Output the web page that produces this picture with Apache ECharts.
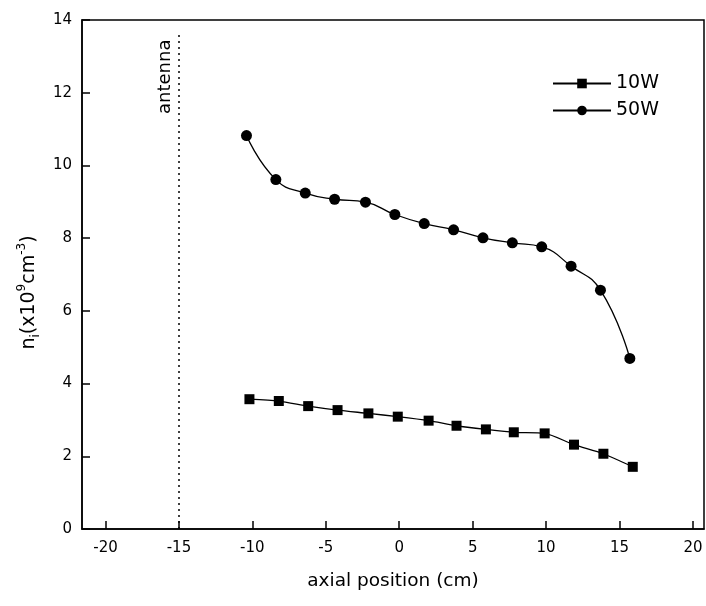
<!DOCTYPE html>
<html>
<head>
<meta charset="utf-8">
<script src="https://cdn.jsdelivr.net/npm/echarts@6/dist/echarts.min.js"></script>
<style>
html, body { margin: 0; padding: 0; background: #fff; }
#chart { width: 706px; height: 606px; }
</style>
</head>
<body>
<div id="chart"></div>
<script>
// 10W
var posLow = [-10.2, -8.2, -6.2, -4.2, -2.1, -0.1, 2.0, 3.9, 5.9, 7.8, 9.9, 11.9, 13.9, 15.9];
var densLow = [3.57, 3.52, 3.38, 3.27, 3.18, 3.09, 2.98, 2.84, 2.74, 2.66, 2.63, 2.32, 2.07, 1.71];
// 50W
var posHigh = [-10.4, -8.4, -6.4, -4.4, -2.3, -0.3, 1.7, 3.7, 5.7, 7.7, 9.7, 11.7, 13.7, 15.7];
var densHigh = [10.82, 9.61, 9.24, 9.07, 8.99, 8.65, 8.40, 8.23, 8.01, 7.87, 7.76, 7.23, 6.57, 4.69];
// antenna position
var antennaPos = -15;
var antennaTop = 13.6;
var xTicks = [-20, -15, -10, -5, 0, 5, 10, 15, 20];
var seriesNames = ['10W', '50W'];

function pairs(xs, ys) {
	var out = [];
	for (var i = 0; i < xs.length; i++) {
		out.push([xs[i], ys[i]]);
	}
	return out;
}

var myChart = echarts.init(document.getElementById('chart'));
var font = 'DejaVu Sans';
option = {
	animation: false,
	textStyle: { fontFamily: font, color: '#000' },
	grid: {
		left: 82, right: 2, top: 20, bottom: 77,
		show: true, borderColor: '#000', borderWidth: 1.5
	},
	legend: {
		data: seriesNames,
		orient: 'vertical',
		left: 547,
		top: 69,
		itemWidth: 58,
		itemHeight: 12,
		itemGap: 8,
		textStyle: { fontFamily: font, fontSize: 19, color: '#000' }
	},
	xAxis: {
		type: 'value',
		min: -21.6,
		max: 20.75,
		name: 'axial position (cm)',
		nameLocation: 'middle',
		nameGap: 43,
		nameTextStyle: { fontFamily: font, fontSize: 18.5, color: '#000' },
		splitLine: { show: false },
		axisLine: { onZero: false, lineStyle: { color: '#000', width: 1.5 } },
		axisTick: { inside: true, length: 8, customValues: xTicks, lineStyle: { color: '#000', width: 1.5 } },
		axisLabel: { customValues: xTicks, fontSize: 15, color: '#000', margin: 12 }
	},
	yAxis: {
		type: 'value',
		min: 0,
		max: 14,
		interval: 2,
		name: '{n|n}{sub|i}{n|(x10}{sup|9}{n|cm}{sup|-3}{n|)}',
		nameLocation: 'middle',
		nameGap: 40,
		nameRotate: 90,
		nameTextStyle: {
			padding: [0, 36, 0, 0],
			rich: {
				n: { fontFamily: font, fontSize: 19, color: '#000', lineHeight: 26 },
				sub: { fontFamily: font, fontSize: 12, color: '#000', lineHeight: 26, verticalAlign: 'bottom' },
				sup: { fontFamily: font, fontSize: 12, color: '#000', lineHeight: 26, verticalAlign: 'top' }
			}
		},
		splitLine: { show: false },
		axisLine: { onZero: false, lineStyle: { color: '#000', width: 1.5 } },
		axisTick: { inside: true, length: 8, lineStyle: { color: '#000', width: 1.5 } },
		axisLabel: { fontSize: 15, color: '#000', margin: 10 }
	},
	series: [
		{
			name: '10W',
			type: 'line',
			data: pairs(posLow, densLow),
			smooth: 0.25,
			symbol: 'rect',
			symbolSize: 10,
			itemStyle: { color: '#000' },
			lineStyle: { color: '#000', width: 1.3 }
		},
		{
			name: '50W',
			type: 'line',
			data: pairs(posHigh, densHigh),
			smooth: 0.5,
			symbol: 'circle',
			symbolSize: 11,
			itemStyle: { color: '#000' },
			lineStyle: { color: '#000', width: 1.3 }
		},
		{
			name: 'antenna',
			type: 'line',
			data: [],
			markLine: {
				silent: true,
				symbol: ['none', 'none'],
				lineStyle: { color: '#000', type: [2, 4], width: 1.5 },
				label: {
					show: true,
					formatter: 'antenna',
					position: 'insideEndTop',
					fontFamily: font,
					fontSize: 18,
					color: '#000',
					distance: 5
				},
				data: [[{ coord: [antennaPos, 0] }, { coord: [antennaPos, antennaTop] }]]
			}
		}
	]
};
myChart.setOption(option);
</script>
</body>
</html>
